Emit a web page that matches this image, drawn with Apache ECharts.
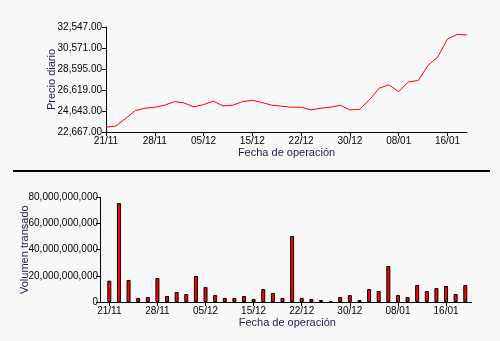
<!DOCTYPE html>
<html>
<head>
<meta charset="utf-8">
<script src="https://cdn.jsdelivr.net/npm/echarts@6/dist/echarts.min.js"></script>
<style>
  html, body { margin: 0; padding: 0; background: #f8f8f8; }
  #chart { width: 500px; height: 341px; }
</style>
</head>
<body>
<div id="chart"></div>
<script>
// Trading days shown on both charts
const fechas = [
  '21/11','22/11','23/11','24/11','25/11','28/11','29/11','30/11','01/12','02/12',
  '05/12','06/12','07/12','09/12','13/12','15/12','16/12','19/12','20/12','21/12',
  '22/12','23/12','26/12','27/12','29/12','30/12','02/01','03/01','04/01','05/01',
  '08/01','09/01','10/01','11/01','12/01','16/01','17/01','18/01'
];

// Daily closing price
const precioDiario = [
  23111, 23233, 23923, 24678, 24904, 24999, 25187, 25527, 25405, 25027,
  25244, 25565, 25121, 25187, 25527, 25659, 25433, 25187, 25093, 24999,
  24999, 24744, 24904, 24999, 25187, 24744, 24810, 25688, 26792, 27104,
  26472, 27387, 27510, 28926, 29718, 31418, 31852, 31795
];

// Traded volume per day
const volumenTransado = [
  16.3e9, 75.6e9, 16.8e9, 3.1e9, 3.8e9, 18.3e9, 4.6e9, 7.6e9, 6.1e9, 19.9e9,
  11.5e9, 5.3e9, 3.1e9, 3.1e9, 4.6e9, 2.3e9, 9.9e9, 6.9e9, 3.1e9, 50.4e9,
  3.1e9, 2.3e9, 1.5e9, 0.8e9, 3.8e9, 5.3e9, 1.5e9, 9.9e9, 8.4e9, 27.5e9,
  5.3e9, 3.8e9, 13.0e9, 8.4e9, 10.7e9, 12.2e9, 6.1e9, 13.0e9
];

// Price axis scale
const precioMin = 22667;
const precioMax = 32547;
const precioPaso = 1976;

// Volume axis scale
const volumenMax = 80e9;
const volumenPaso = 20e9;

const fmtMiles = (v, dec) => Number(v).toLocaleString('en-US', {
  minimumFractionDigits: dec, maximumFractionDigits: dec
});

const tickFont = { fontFamily: '"Liberation Sans Narrow", "Liberation Sans", Arial, sans-serif', fontSize: 10, color: '#000' };
const nameFont = { fontFamily: '"Liberation Sans", Arial, sans-serif', fontSize: 11, color: '#1c1c50' };
const axisLine = { show: true, lineStyle: { color: '#000', width: 1 } };
const axisTick = { show: true, length: 4, lineStyle: { color: '#000', width: 1 } };

const chart = echarts.init(document.getElementById('chart'), null, { renderer: 'canvas' });

chart.setOption({
  backgroundColor: '#f8f8f8',
  animation: false,
  grid: [
    { left: 106, right: 33, top: 27, bottom: 209 },
    { left: 104.5, width: 365.6, top: 197.3, height: 104.7 }
  ],
  xAxis: [
    {
      type: 'category', gridIndex: 0, data: fechas, boundaryGap: false,
      name: 'Fecha de operación', nameLocation: 'middle', nameGap: 15, nameMoveOverlap: false,
      nameTextStyle: nameFont,
      axisLine: axisLine,
      axisTick: Object.assign({ interval: 4 }, axisTick),
      axisLabel: Object.assign({ interval: 4, margin: 4 }, tickFont),
      splitLine: { show: false }
    },
    {
      type: 'category', gridIndex: 1, data: fechas, boundaryGap: true,
      name: 'Fecha de operación', nameLocation: 'middle', nameGap: 15, nameMoveOverlap: false,
      nameTextStyle: nameFont,
      axisLine: axisLine,
      axisTick: Object.assign({ interval: 4, alignWithLabel: true }, axisTick),
      axisLabel: Object.assign({ interval: 4, margin: 4 }, tickFont),
      splitLine: { show: false }
    }
  ],
  yAxis: [
    {
      type: 'value', gridIndex: 0, min: precioMin, max: precioMax, interval: precioPaso,
      name: 'Precio diario', nameLocation: 'middle', nameGap: 49, nameMoveOverlap: false,
      nameTextStyle: nameFont,
      axisLine: axisLine, axisTick: axisTick,
      axisLabel: Object.assign({ margin: 4, formatter: v => fmtMiles(v, 2) }, tickFont),
      splitLine: { show: false }
    },
    {
      type: 'value', gridIndex: 1, min: 0, max: volumenMax, interval: volumenPaso, offset: 4.5,
      name: 'Volumen transado', nameLocation: 'middle', nameGap: 70, nameMoveOverlap: false,
      nameTextStyle: nameFont,
      axisLine: axisLine, axisTick: axisTick,
      axisLabel: Object.assign({ margin: 2, formatter: v => fmtMiles(v, 0) }, tickFont),
      splitLine: { show: false }
    }
  ],
  series: [
    {
      type: 'line', xAxisIndex: 0, yAxisIndex: 0, data: precioDiario,
      symbol: 'none', lineStyle: { color: '#ff0000', width: 1 }
    },
    {
      type: 'bar', xAxisIndex: 1, yAxisIndex: 1, data: volumenTransado,
      barWidth: 4,
      itemStyle: { color: '#ff0000', borderColor: '#000', borderWidth: 1 }
    }
  ],
  graphic: [
    // divider between the two panels
    { type: 'rect', shape: { x: 13, y: 170, width: 477, height: 2 }, style: { fill: '#000' } },
    // base line of the volume panel, running under the offset value axis
    { type: 'line', shape: { x1: 100, y1: 302.5, x2: 472, y2: 302.5 }, style: { stroke: '#000', lineWidth: 1 } }
  ]
});
</script>
</body>
</html>
